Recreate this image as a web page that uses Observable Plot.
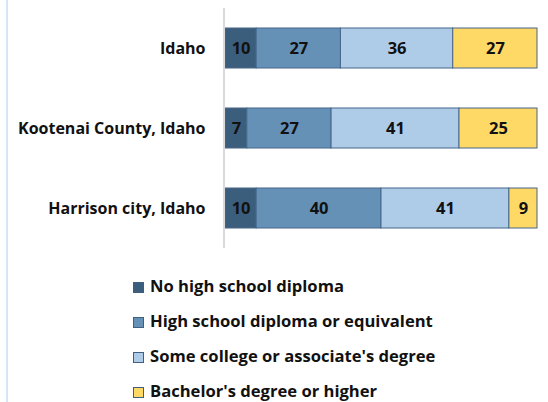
<!DOCTYPE html>
<html>
<head>
<meta charset="utf-8">
<script src="https://cdn.jsdelivr.net/npm/d3@7"></script>
<script src="https://cdn.jsdelivr.net/npm/@observablehq/plot@0.6"></script>
<style>
  html, body { margin: 0; padding: 0; background: #fff; overflow: hidden; }
  body { width: 548px; height: 402px; position: relative; font-family: "Open Sans", sans-serif; }
  #frame { position: absolute; left: 6px; top: 0; width: 2px; height: 402px; background: #d6e6f6; }
  #chart { position: absolute; left: 0; top: 0; }
  #legend { position: absolute; left: 133px; top: 268px; }
  .row { height: 35px; line-height: 35px; font-weight: bold; font-size: 16.6px; color: #111; white-space: nowrap; }
  .sw { display: inline-block; width: 9px; height: 9px; border: 1px solid #3e5f80; margin-right: 6px; vertical-align: -1px; }
</style>
</head>
<body>
<div id="frame"></div>
<div id="chart"></div>
<div id="legend"></div>
<script>
const places = ["Idaho", "Kootenai County, Idaho", "Harrison city, Idaho"];
const categories = [
  "No high school diploma",
  "High school diploma or equivalent",
  "Some college or associate's degree",
  "Bachelor's degree or higher"
];
const colors = ["#3c5e7d", "#6591b7", "#aecbe8", "#fed966"];
const noDiploma = [10, 7, 10];
const highSchool = [27, 27, 40];
const someCollege = [36, 41, 41];
const bachelor = [27, 25, 9];

const seriesValues = [noDiploma, highSchool, someCollege, bachelor];
const data = [];
places.forEach((p, i) => {
  categories.forEach((c, j) => {
    data.push({place: p, cat: c, value: seriesValues[j][i]});
  });
});

const chart = Plot.plot({
  width: 548,
  height: 260,
  marginTop: 8,
  marginBottom: 12,
  marginLeft: 225,
  marginRight: 11,
  style: {fontFamily: "'Open Sans', sans-serif", background: "transparent"},
  x: {domain: [0, 100], axis: null},
  y: {domain: places, paddingInner: 0.5, paddingOuter: 0.25, label: null},
  color: {domain: categories, range: colors},
  marks: [
    Plot.barX(data, Plot.stackX({
      x: "value", y: "place", fill: "cat", order: categories,
      stroke: "#46678a", strokeWidth: 1
    })),
    Plot.text(data, Plot.stackX({
      x: "value", y: "place", z: "cat", order: categories,
      text: d => String(d.value),
      fill: "#111", fontSize: 16.5, fontWeight: "bold"
    })),
    Plot.ruleX([0], {stroke: "#d9d9d9", strokeWidth: 2, dx: -1.5}),
    Plot.axisY({tickSize: 0, tickPadding: 20, fontSize: 16, fontWeight: "bold", fill: "#111", label: null})
  ]
});
document.getElementById("chart").appendChild(chart);

const legend = document.getElementById("legend");
categories.forEach((c, j) => {
  const row = document.createElement("div");
  row.className = "row";
  const sw = document.createElement("span");
  sw.className = "sw";
  sw.style.background = colors[j];
  row.appendChild(sw);
  row.appendChild(document.createTextNode(c));
  legend.appendChild(row);
});
</script>
</body>
</html>
